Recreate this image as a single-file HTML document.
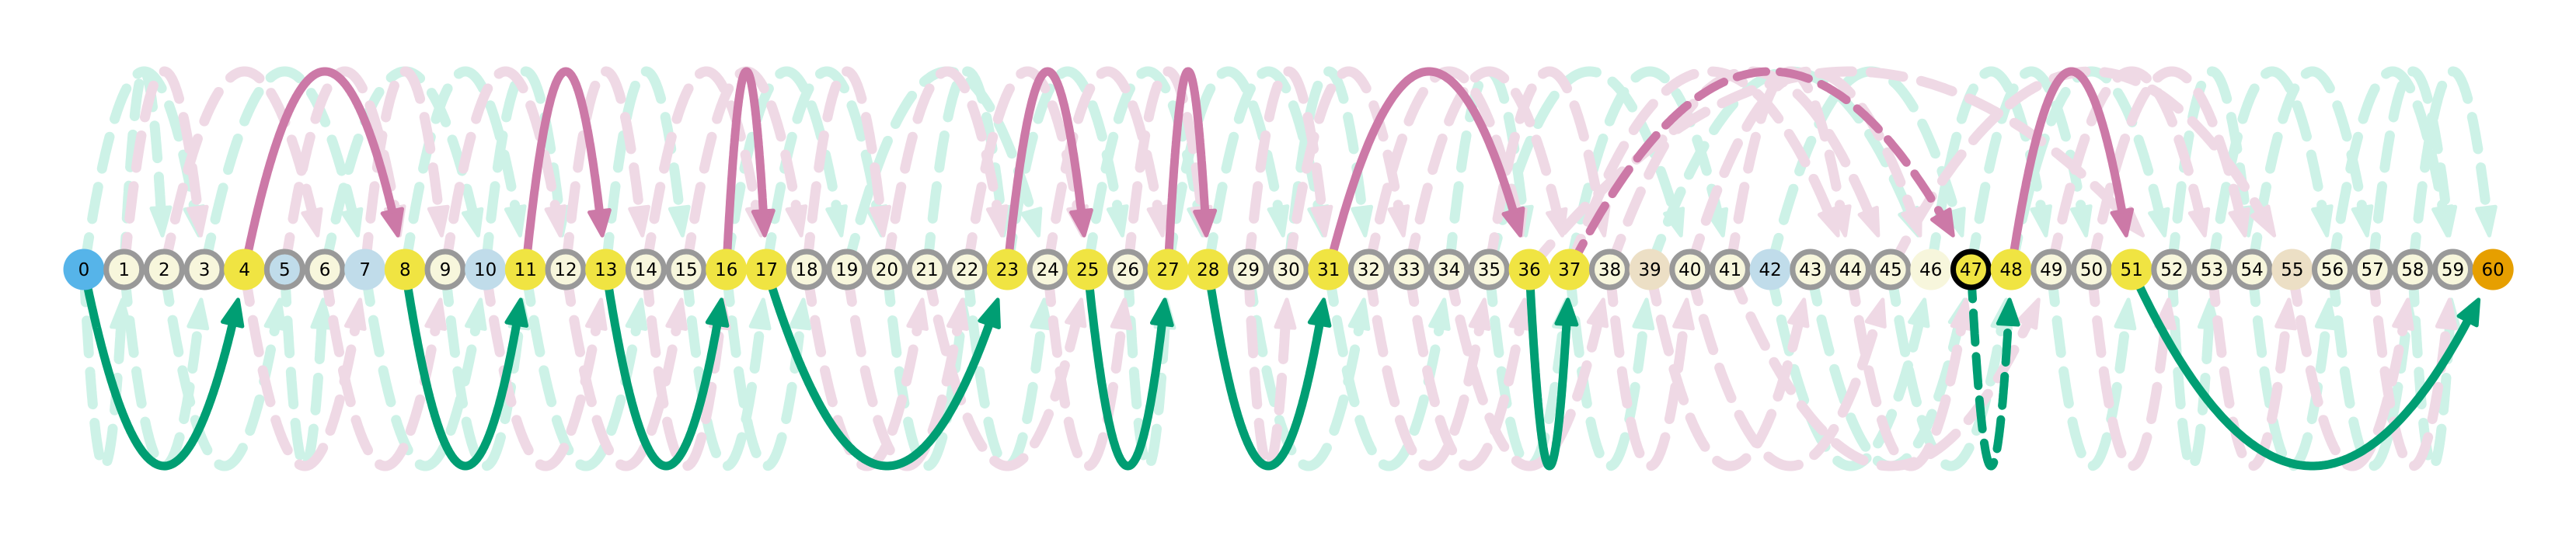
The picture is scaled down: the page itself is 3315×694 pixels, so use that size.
<!DOCTYPE html>
<html><head><meta charset="utf-8"><style>
html,body{margin:0;padding:0;background:#fff;}
svg{display:block;}
text{font-family:"DejaVu Sans","Liberation Sans",sans-serif;}
</style></head><body>
<svg id="chart" width="3315" height="694" viewBox="0 0 3315 694" xmlns="http://www.w3.org/2000/svg">
<g id="faint"></g>
<g id="main"></g>
<g id="nodes"></g>
</svg>
<script>
// ---- data ----
const nodeCount = 61;
const yellowNodes = [4,8,11,13,16,17,23,25,27,28,31,36,37,47,48,51];
const blueNodes = [7,10,42];
const blueRingNodes = [5];
const beigeNodes = [39,55];
const plainNodes = [46];
const startNode = 0;
const endNode = 60;
const currentNode = 47;
const mainTopSolid = [[4,8],[11,13],[16,17],[23,25],[27,28],[31,36],[48,51]];
const mainTopDashed = [[37,47]];
const mainBottomSolid = [[0,4],[8,11],[13,16],[17,23],[25,27],[28,31],[36,37],[51,60]];
const mainBottomDashed = [[47,48]];
const faintTopPink = [[1,3],[2,6],[5,8],[7,9],[9,12],[12,14],[14,17],[15,18],[18,20],[20,23],[22,25],[24,27],[26,28],[29,31],[30,33],[32,36],[33,37],[35,38],[37,44],[38,45],[40,46],[41,44],[36,52],[45,55],[49,53],[50,54]];
const faintTopGreen = [[0,3],[1,2],[3,7],[6,10],[8,11],[10,12],[13,15],[16,19],[17,20],[19,24],[21,23],[23,26],[25,28],[27,30],[28,31],[30,32],[34,36],[35,40],[37,41],[39,46],[42,47],[46,49],[47,50],[48,52],[52,54],[53,56],[54,57],[56,59],[57,59],[58,60]];
const faintBottomPink = [[4,7],[6,9],[10,13],[12,15],[14,16],[18,21],[19,22],[21,25],[24,26],[29,30],[32,35],[33,36],[34,38],[38,40],[39,43],[40,45],[41,49],[44,47],[50,52],[53,55],[55,58],[57,59]];
const faintBottomGreen = [[0,1],[1,3],[2,5],[5,6],[7,10],[9,11],[11,14],[15,17],[16,18],[20,22],[22,24],[26,27],[29,32],[31,34],[35,37],[37,39],[42,46],[43,47],[45,48],[49,51],[52,53],[54,56],[56,58],[58,59]];

// ---- layout ----
const NS = "http://www.w3.org/2000/svg";
const X0 = 108, DX = 51.67, YN = 347;
const TOP_CTRL = -163, BOT_CTRL = 853;
const TOP_TIP = 301, BOT_TIP = 389;
function xPos(i){ return X0 + i*DX; }

function arc(g, a, b, top, color, width, dash, headLen, headW){
  const x1 = xPos(a), x2 = xPos(b), xm = (x1+x2)/2;
  const yc = top ? TOP_CTRL : BOT_CTRL;
  const tipY = top ? TOP_TIP : BOT_TIP;
  const pts = [];
  const N = 200;
  let endIdx = N;
  for (let k=0;k<=N;k++){
    const t = k/N, u = 1-t;
    const x = u*u*x1 + 2*u*t*xm + t*t*x2;
    const y = u*u*YN + 2*u*t*yc + t*t*YN;
    pts.push([x,y]);
  }
  for (let k=N/2;k<=N;k++){
    const y = pts[k][1];
    if ((top && y >= tipY) || (!top && y <= tipY)) { endIdx = k; break; }
  }
  const tip = pts[endIdx];
  let bi = endIdx;
  while (bi > 0 && Math.hypot(pts[bi][0]-tip[0], pts[bi][1]-tip[1]) < headLen) bi--;
  const base = pts[bi];
  let d = "M" + pts[0][0].toFixed(1) + "," + pts[0][1].toFixed(1);
  for (let k=1;k<=bi;k++) d += " L" + pts[k][0].toFixed(1) + "," + pts[k][1].toFixed(1);
  const p = document.createElementNS(NS,"path");
  
  
  p.setAttribute("d", d);
  p.setAttribute("fill","none");
  p.setAttribute("stroke",color);
  p.setAttribute("stroke-width",width);
  p.setAttribute("stroke-linecap","round");
  if (dash) p.setAttribute("stroke-dasharray", dash);
  g.appendChild(p);
  const vx = tip[0]-base[0], vy = tip[1]-base[1];
  const L = Math.hypot(vx,vy) || 1;
  const nx = -vy/L*headW, ny = vx/L*headW;
  const h = document.createElementNS(NS,"polygon");
  
  
  h.setAttribute("points", tip[0]+","+tip[1]+" "+(base[0]+nx)+","+(base[1]+ny)+" "+(base[0]-nx)+","+(base[1]-ny));
  h.setAttribute("fill",color);
  h.setAttribute("stroke",color);
  h.setAttribute("stroke-width",5);
  h.setAttribute("stroke-linejoin","round");
  g.appendChild(h);
}

const faint = document.getElementById("faint");
const PINK_F = "#efd9e5", GREEN_F = "#cdf2e7";
faintTopGreen.forEach(e=>arc(faint,e[0],e[1],true,GREEN_F,13,"42 24",32,12));
faintTopPink.forEach(e=>arc(faint,e[0],e[1],true,PINK_F,13,"42 24",32,12));
faintBottomGreen.forEach(e=>arc(faint,e[0],e[1],false,GREEN_F,13,"42 24",32,12));
faintBottomPink.forEach(e=>arc(faint,e[0],e[1],false,PINK_F,13,"42 24",32,12));

const main = document.getElementById("main");
const PINK = "#cc79a7", GREEN = "#009e73";
mainTopSolid.forEach(e=>arc(main,e[0],e[1],true,PINK,11,null,30,13));
mainTopDashed.forEach(e=>arc(main,e[0],e[1],true,PINK,11,"38 18",30,13));
mainBottomSolid.forEach(e=>arc(main,e[0],e[1],false,GREEN,11,null,30,13));
mainBottomDashed.forEach(e=>arc(main,e[0],e[1],false,GREEN,11,"38 18",30,13));

const nodes = document.getElementById("nodes");
for (let i=0;i<nodeCount;i++){
  let fill = "#f7f6dc", ring = "#999999";
  if (i===startNode){ fill="#56b4e9"; ring=null; }
  else if (i===endNode){ fill="#e69f00"; ring=null; }
  else if (yellowNodes.includes(i)){ fill="#f0e442"; ring = (i===currentNode) ? "#000000" : null; }
  else if (blueNodes.includes(i)){ fill="#c0dcea"; ring=null; }
  else if (blueRingNodes.includes(i)){ fill="#c0dcea"; }
  else if (beigeNodes.includes(i)){ fill="#ecdfc5"; ring=null; }
  else if (plainNodes.includes(i)){ fill="#f7f6dc"; ring=null; }
  const g = document.createElementNS(NS,"g");
  
  
  const c = document.createElementNS(NS,"circle");
  c.setAttribute("cx", xPos(i)); c.setAttribute("cy", YN);
  if (ring){ c.setAttribute("r", 23); c.setAttribute("stroke", ring); c.setAttribute("stroke-width", 7); }
  else c.setAttribute("r", 26.5);
  c.setAttribute("fill", fill);
  g.appendChild(c);
  const t = document.createElementNS(NS,"text");
  t.setAttribute("x", xPos(i)); t.setAttribute("y", YN+8);
  t.setAttribute("text-anchor","middle");
  t.setAttribute("font-size","23");
  t.setAttribute("fill","#000");
  t.textContent = i;
  g.appendChild(t);
  nodes.appendChild(g);
}
</script>
</body></html>
